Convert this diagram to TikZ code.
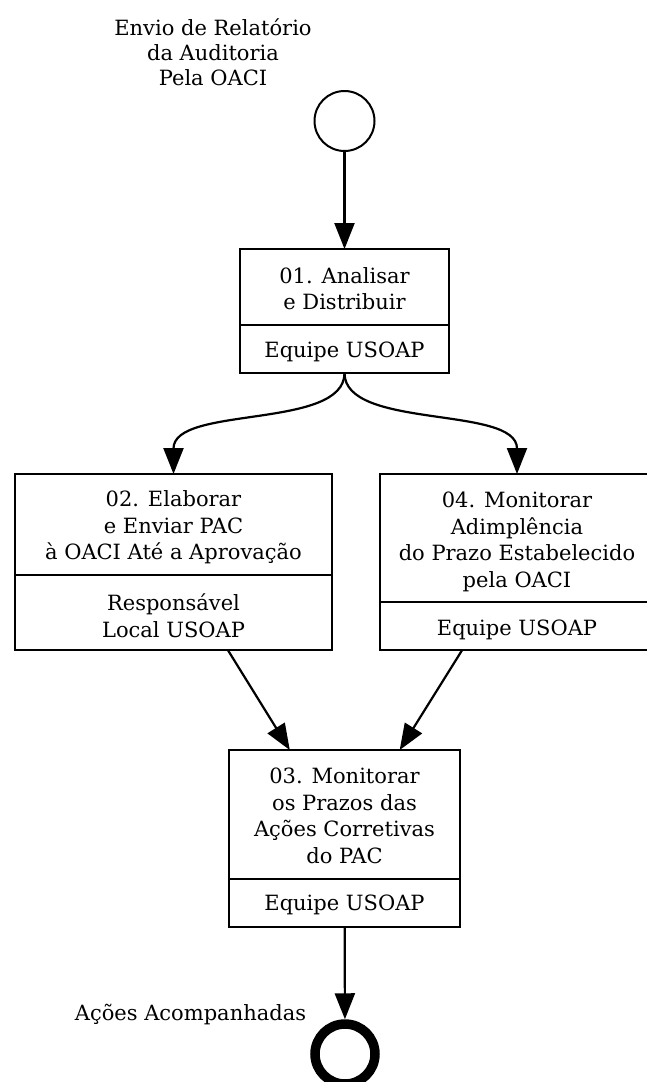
\documentclass[tikz,border=0pt]{standalone}
\usepackage{fontspec}
\setmainfont{DejaVu Serif}
\usetikzlibrary{arrows.meta}
\begin{document}
\begin{tikzpicture}[x=1pt,y=-1pt,
  box/.style={draw, line width=2.2pt, rectangle, inner sep=0pt, outer sep=0pt},
  divline/.style={line width=2.2pt},
  txt/.style={align=center, inner sep=0pt, font=\fontsize{21}{26.5}\selectfont},
  ttl/.style={align=center, inner sep=0pt, font=\fontsize{21}{25}\selectfont},
  arr/.style={line width=2.2pt, -{Triangle[length=26pt,width=20pt]}},
  startc/.style={draw, circle, line width=2pt, minimum size=60pt, inner sep=0pt, outer sep=0pt},
  endc/.style={draw, circle, line width=9.5pt, minimum size=60pt, inner sep=0pt, outer sep=4.75pt}]
\useasboundingbox (0,0) rectangle (646,1082);

% start
\node[ttl] (t0) at (213,52) {Envio de Relatório\\da Auditoria\\Pela OACI};
\node[startc] (s) at (344.5,121) {};

% box 01
\node[box, minimum width=209pt, minimum height=124pt] (b1) at (344.5,311) {};
\draw[divline] (b1.west |- 0,325) -- (b1.east |- 0,325);
\node[txt] (b1t) at (344.5,288.5) {01. Analisar\\e Distribuir};
\node[txt] (b1r) at (344.5,352) {Equipe USOAP};

% box 02
\node[box, minimum width=317pt, minimum height=176pt] (b2) at (173.5,562) {};
\draw[divline] (b2.west |- 0,575) -- (b2.east |- 0,575);
\node[txt] (b2t) at (173.5,527.5) {02. Elaborar\\e Enviar PAC\\à OACI Até a Aprovação};
\node[txt] (b2r) at (173.5,615.5) {Responsável\\Local USOAP};

% box 04
\node[box, minimum width=274pt, minimum height=176pt] (b4) at (517,562) {};
\draw[divline] (b4.west |- 0,602) -- (b4.east |- 0,602);
\node[txt] (b4t) at (517,542) {04. Monitorar\\Adimplência\\do Prazo Estabelecido\\pela OACI};
\node[txt] (b4r) at (517,630) {Equipe USOAP};

% box 03
\node[box, minimum width=231pt, minimum height=177pt] (b3) at (344.5,838.5) {};
\draw[divline] (b3.west |- 0,879) -- (b3.east |- 0,879);
\node[txt] (b3t) at (344.5,816) {03. Monitorar\\os Prazos das\\Ações Corretivas\\do PAC};
\node[txt] (b3r) at (344.5,905) {Equipe USOAP};

% end
\node[endc] (e) at (345,1054) {};
\node[txt, anchor=base] (el) at (190.5,1020) {Ações Acompanhadas};

% connectors
\draw[arr] (s) -- (b1);
\draw[arr] (b1.south) .. controls (344.5,430) and (173.5,405) .. (b2.north);
\draw[arr] (b1.south) .. controls (344.5,430) and (517,405) .. (b4.north);
\draw[arr] (b2) -- (b3);
\draw[arr] (b4) -- (b3);
\draw[arr] (b3) -- (e);
\end{tikzpicture}
\end{document}
